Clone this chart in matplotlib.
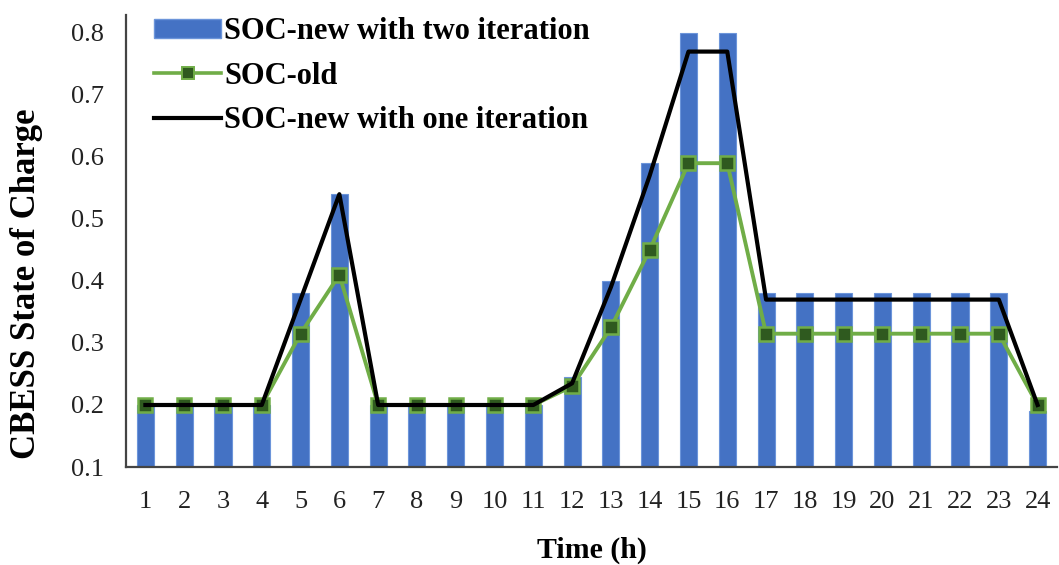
import matplotlib
matplotlib.use("Agg")
import matplotlib.pyplot as plt
import numpy as np
from matplotlib.patches import Patch
from matplotlib.lines import Line2D

hours = list(range(1, 25))
soc_two_iter = [0.20, 0.20, 0.20, 0.20, 0.38, 0.54, 0.20, 0.20, 0.20, 0.20, 0.20, 0.245,
                0.40, 0.59, 0.80, 0.80, 0.38, 0.38, 0.38, 0.38, 0.38, 0.38, 0.38, 0.19]
soc_old = [0.20, 0.20, 0.20, 0.20, 0.315, 0.41, 0.20, 0.20, 0.20, 0.20, 0.20, 0.23,
           0.325, 0.45, 0.59, 0.59, 0.315, 0.315, 0.315, 0.315, 0.315, 0.315, 0.315, 0.20]
soc_one_iter = [0.20, 0.20, 0.20, 0.20, 0.37, 0.54, 0.20, 0.20, 0.20, 0.20, 0.20, 0.235,
                0.39, 0.57, 0.77, 0.77, 0.37, 0.37, 0.37, 0.37, 0.37, 0.37, 0.37, 0.20]
y_ticks = [0.1, 0.2, 0.3, 0.4, 0.5, 0.6, 0.7, 0.8]

plt.rcParams['font.family'] = ['Liberation Serif', 'DejaVu Serif']

W, H = 1059, 565
fig = plt.figure(figsize=(W / 100, H / 100), dpi=100)
ax = fig.add_axes([126 / W, (H - 467) / H, (1057 - 126) / W, (467 - 15) / H])

bar_color = '#4472C4'
green = '#70AD47'
dark_green = '#2F5A1F'

ax.bar(hours, [v - 0.1 for v in soc_two_iter], bottom=0.1, width=0.44,
       color=bar_color, edgecolor='#6C95DA', linewidth=0.8, zorder=2)
ax.plot(hours, soc_old, color=green, lw=2.8, marker='s', markersize=10.5,
        markerfacecolor=dark_green, markeredgecolor=green, markeredgewidth=1.8, zorder=3)
ax.plot(hours, soc_one_iter, color='black', lw=3.0, zorder=4)

ax.set_xlim(0.5, 24.5)
ax.set_ylim(0.1, 0.829)
ax.set_xticks(hours)
ax.set_xticklabels([str(h) for h in hours])
ax.set_yticks(y_ticks)
ax.set_yticklabels([f'{t:.1f}' for t in y_ticks])
ax.tick_params(axis='both', length=0, labelsize=19, colors='#222222')
ax.tick_params(axis='x', pad=17)
ax.tick_params(axis='y', pad=16)

for s in ('top', 'right'):
    ax.spines[s].set_visible(False)
ax.spines['left'].set_color('#444444')
ax.spines['bottom'].set_color('#444444')
ax.spines['left'].set_linewidth(1.6)
ax.spines['bottom'].set_linewidth(1.6)

ax.set_xlabel('Time (h)', fontsize=21.5, fontweight='bold', labelpad=17)
ax.set_ylabel('CBESS State of Charge', fontsize=25, fontweight='bold')
ax.yaxis.set_label_coords(-0.089, 0.405)

handles = [
    Patch(facecolor=bar_color, edgecolor='#6C95DA'),
    Line2D([], [], color=green, lw=2.6, marker='s', markersize=8,
           markerfacecolor=dark_green, markeredgecolor=green, markeredgewidth=1.4),
    Line2D([], [], color='black', lw=3.0),
]
labels = ['SOC-new with two iteration', 'SOC-old', 'SOC-new with one iteration']
leg = ax.legend(handles, labels, loc='upper left', bbox_to_anchor=(0.017, 1.022),
                frameon=False, prop={'family': 'Liberation Serif', 'weight': 'bold', 'size': 22},
                handlelength=2.2, handleheight=0.6, handletextpad=0.1,
                labelspacing=0.5, borderaxespad=0)

fig.savefig('out.png', dpi=100)
